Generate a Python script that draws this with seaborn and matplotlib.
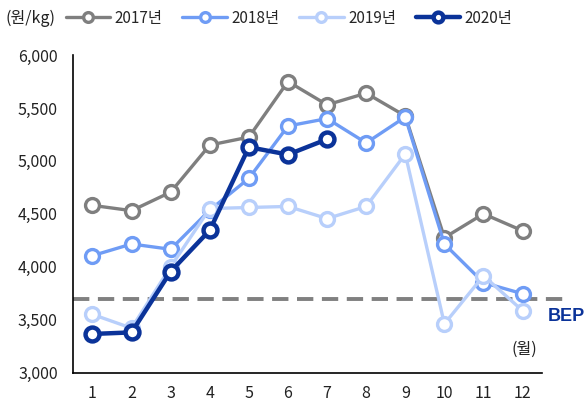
import pandas as pd
import seaborn as sns
import matplotlib.pyplot as plt
from matplotlib.lines import Line2D

months = list(range(1, 13))
price_2017 = [4580, 4530, 4705, 5150, 5225, 5750, 5530, 5640, 5425, 4275, 4500, 4340]
price_2018 = [4105, 4215, 4165, 4535, 4835, 5330, 5400, 5170, 5415, 4215, 3850, 3745]
price_2019 = [3550, 3420, 4000, 4550, 4560, 4570, 4455, 4570, 5065, 3460, 3915, 3585]
price_2020 = [3365, 3380, 3955, 4345, 5130, 5060, 5205]
bep = 3700
years = ['2017년', '2018년', '2019년', '2020년']
colors = ['#7f7f7f', '#6f9cf5', '#b8cffb', '#0b3399']

sns.set_theme(style='white')
plt.rcParams['font.family'] = ['Noto Sans CJK KR', 'DejaVu Sans']
plt.rcParams['axes.unicode_minus'] = False

rows = []
for year, vals in zip(years, [price_2017, price_2018, price_2019, price_2020]):
    for m, v in zip(months, vals):
        rows.append({'month': m, 'price': v, 'year': year})
df = pd.DataFrame(rows)

fig = plt.figure(figsize=(5.88, 4.05), dpi=100)
ax = fig.add_axes([0.124, 0.08, 0.798, 0.784])

for year, color in zip(years, colors):
    lw = 3.2 if year == '2020년' else 2.4
    sns.lineplot(data=df[df['year'] == year], x='month', y='price', ax=ax,
                 color=color, linewidth=lw, marker='o', markersize=10,
                 markerfacecolor='white', markeredgecolor=color,
                 markeredgewidth=lw, legend=False, zorder=3)

# BEP line
ax.plot([0.5, 13.05], [bep, bep], color='#808080', linewidth=2.8,
        linestyle=(0, (4.2, 2.2)), clip_on=False, zorder=2)
ax.text(13.12, bep - 90, 'BEP', color='#0b3399', fontsize=13, fontweight='bold',
        ha='center', va='top', family=['Liberation Sans', 'DejaVu Sans'])
ax.text(12.05, 3220, '(월)', fontsize=11.5, ha='center', va='center', color='#222222')

ax.set_xlim(0.5, 12.5)
ax.set_ylim(3000, 6000)
ax.set_xticks(months)
ax.set_xticks([m + 0.5 for m in range(0, 13)], minor=True)
ax.tick_params(axis='x', which='major', length=0, labelsize=11.5, pad=9, colors='#222222')
ax.tick_params(axis='x', which='minor', length=5, width=1, direction='out', color='black')
ax.set_yticks(range(3000, 6001, 500))
ax.set_yticklabels([f'{v:,}' for v in range(3000, 6001, 500)])
ax.tick_params(axis='y', length=5, width=1, direction='out', labelsize=11.5, pad=6,
               color='black', labelcolor='#222222')
ax.set_xlabel('')
ax.set_ylabel('')
sns.despine(ax=ax)
for s in ['left', 'bottom']:
    ax.spines[s].set_color('black')
    ax.spines[s].set_linewidth(1.2)

fig.text(0.009, 0.955, '(원/kg)', fontsize=11.5, va='center', ha='left', color='#222222')
handles = [Line2D([], [], color=c, linewidth=(3.2 if y == '2020년' else 2.4), marker='o',
                  markersize=7, markerfacecolor='white', markeredgecolor=c,
                  markeredgewidth=(3.2 if y == '2020년' else 2.4))
           for y, c in zip(years, colors)]
fig.legend(handles, years, ncol=4, loc='center left', bbox_to_anchor=(0.112, 0.955),
           frameon=False, fontsize=11, handlelength=2.9, handletextpad=0.3,
           columnspacing=1.3, borderaxespad=0, borderpad=0)

fig.savefig('out.png', dpi=100)
